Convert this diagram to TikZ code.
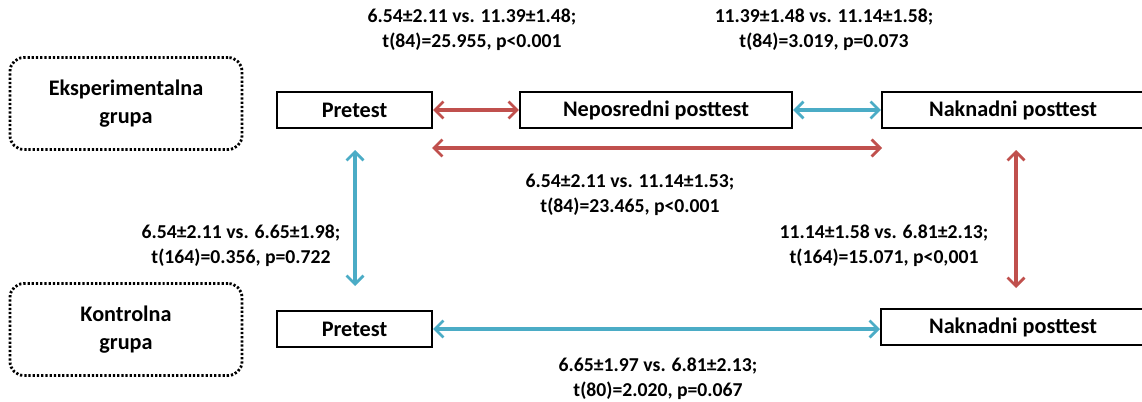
\documentclass[tikz,border=0pt]{standalone}
\usepackage{fontspec}
\setmainfont{Carlito}
\usetikzlibrary{arrows.meta}

\begin{document}
\begin{tikzpicture}[x=0.025cm,y=-0.025cm,
	box/.style={draw=black,line width=1.4pt,minimum height=0.9cm,inner sep=0pt,font=\bfseries\fontsize{15.8}{18}\selectfont},
	group/.style={draw=black,line width=2pt,dash pattern=on 1.6pt off 1.4pt,rounded corners=0.35cm,minimum width=5.8cm,minimum height=2.3cm,align=center,font=\bfseries\fontsize{15.8}{20}\selectfont},
	stat/.style={align=center,font=\bfseries\fontsize{14}{18}\selectfont},
	link/.style={line width=2.6pt,{Straight Barb[length=6pt,width=12pt,line width=2pt]}-{Straight Barb[length=6pt,width=12pt,line width=2pt]}}]
	\definecolor{cred}{rgb}{0.753,0.314,0.302}
	\definecolor{cblue}{rgb}{0.294,0.675,0.776}
	\useasboundingbox (0,0) rectangle (1142,401);
	%
	\node[group] (ge) at (126,103.5) {Eksperimentalna\\grupa};
	\node[group] (gk) at (126,329.5) {Kontrolna\\grupa};
	%
	\node[box,minimum width=3.875cm] (pe) at (354.5,110) {Pretest};
	\node[box,minimum width=6.8cm] (ne) at (656,110) {Neposredni posttest};
	\node[box,minimum width=6.55cm] (ke) at (1013,110) {Naknadni posttest};
	\node[box,minimum width=3.875cm] (pk) at (354.5,329) {Pretest};
	\node[box,minimum width=6.6cm] (kk) at (1013,327) {Naknadni posttest};
	%
	\coordinate (a1) at (432,148);
	\coordinate (a2) at (882,148);
	\coordinate (b1) at (355,150);
	\coordinate (b2) at (355,286);
	\coordinate (c1) at (1016,150);
	\coordinate (c2) at (1016,288);
	%
	\draw[link,cred] (pe) -- (ne);
	\draw[link,cblue] (ne) -- (ke);
	\draw[link,cred] (a1) -- (a2);
	\draw[link,cblue] (b1) -- (b2);
	\draw[link,cred] (c1) -- (c2);
	\draw[link,cblue] (pk.east) -- (kk.west |- pk.east);
	%
	\node[stat] (s1) at (472,30) {6.54±2.11 vs. 11.39±1.48;\\t(84)=25.955, p<0.001};
	\node[stat] (s2) at (824,30) {11.39±1.48 vs. 11.14±1.58;\\t(84)=3.019, p=0.073};
	\node[stat] (s3) at (630,195) {6.54±2.11 vs. 11.14±1.53;\\t(84)=23.465, p<0.001};
	\node[stat] (s4) at (241,246) {6.54±2.11 vs. 6.65±1.98;\\t(164)=0.356, p=0.722};
	\node[stat] (s5) at (884,246) {11.14±1.58 vs. 6.81±2.13;\\t(164)=15.071, p<0,001};
	\node[stat] (s6) at (658,379) {6.65±1.97 vs. 6.81±2.13;\\t(80)=2.020, p=0.067};
	%
\end{tikzpicture}
\end{document}
